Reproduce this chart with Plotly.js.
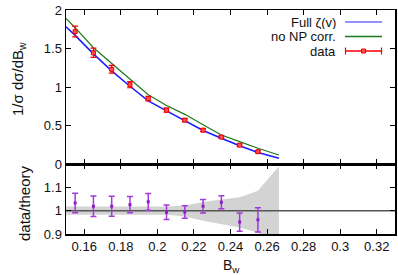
<!DOCTYPE html>
<html>
<head>
<meta charset="utf-8">
<script src="https://cdn.plot.ly/plotly-3.0.1.min.js"></script>
<style>html,body{margin:0;padding:0;background:#fff;}#chart{width:398px;height:275px;}</style>
</head>
<body>
<div id="chart"></div>
<script>
// Data bins (B_w centres)
const binX = [0.155, 0.165, 0.175, 0.185, 0.195, 0.205, 0.215, 0.225, 0.235, 0.245, 0.255];
const dataY = [1.72, 1.445, 1.23, 1.03, 0.85, 0.70, 0.57, 0.44, 0.35, 0.245, 0.16];
const dataErr = [0.07, 0.06, 0.05, 0.04, 0.03, 0.025, 0.02, 0.02, 0.015, 0.015, 0.015];

// Theory curves
const theoryX = [0.15, 0.155, 0.165, 0.175, 0.185, 0.195, 0.205, 0.215, 0.225, 0.235, 0.245, 0.255, 0.2665];
const fullZeta = [1.783, 1.67, 1.43, 1.21, 1.01, 0.82, 0.69, 0.56, 0.435, 0.335, 0.237, 0.15, 0.074];
const noNP = [1.89, 1.77, 1.51, 1.31, 1.10, 0.90, 0.76, 0.645, 0.51, 0.377, 0.29, 0.204, 0.117];

// Ratio panel
const ratioY = [1.033, 1.019, 1.019, 1.026, 1.038, 0.993, 0.994, 1.019, 1.036, 0.951, 0.961];
const ratioErr = [0.042, 0.044, 0.043, 0.035, 0.036, 0.031, 0.027, 0.029, 0.028, 0.039, 0.052];
const bandX = [0.15, 0.205, 0.215, 0.225, 0.235, 0.245, 0.255, 0.2665];
const bandUp = [1.018, 1.018, 1.022, 1.037, 1.048, 1.058, 1.085, 1.19];
const bandLo = [0.982, 0.982, 0.975, 0.957, 0.942, 0.928, 0.905, 0.85];

const xTicks = [0.16, 0.18, 0.2, 0.22, 0.24, 0.26, 0.28, 0.3, 0.32];
const yTopTicks = [0, 0.5, 1, 1.5, 2];
const yBotTicks = [0.9, 1, 1.1];

const FONT = 'Liberation Sans, Arial, sans-serif';

const traces = [
  {x: bandX.concat(bandX.slice().reverse()), y: bandUp.concat(bandLo.slice().reverse()),
   xaxis: 'x', yaxis: 'y', type: 'scatter', mode: 'lines', fill: 'toself',
   fillcolor: '#d2d3d2', line: {width: 0, color: '#d2d3d2'}, hoverinfo: 'skip', showlegend: false},
  {x: [0.15, 0.33], y: [1, 1], xaxis: 'x', yaxis: 'y', type: 'scatter', mode: 'lines',
   line: {color: '#555555', width: 1.5}, showlegend: false},
  {x: binX, y: ratioY, xaxis: 'x', yaxis: 'y', type: 'scatter', mode: 'markers',
   marker: {color: '#8a1fc8', size: 3, symbol: 'square'},
   error_y: {type: 'data', array: ratioErr, color: '#a33ad9', thickness: 1.5, width: 3},
   showlegend: false},
  {x: theoryX, y: fullZeta, xaxis: 'x2', yaxis: 'y2', type: 'scatter', mode: 'lines',
   line: {color: '#1a1aff', width: 1.5}, name: 'Full ζ(v)', showlegend: false},
  {x: theoryX, y: noNP, xaxis: 'x2', yaxis: 'y2', type: 'scatter', mode: 'lines',
   line: {color: '#1a7a1a', width: 1.2}, name: 'no NP corr.', showlegend: false},
  {x: binX, y: dataY, xaxis: 'x2', yaxis: 'y2', type: 'scatter', mode: 'markers',
   marker: {color: '#ff5050', size: 4, symbol: 'square', line: {color: '#ee0000', width: 1}},
   error_y: {type: 'data', array: dataErr, color: '#ff0000', thickness: 1.2, width: 3},
   name: 'data', showlegend: false}
];

const axCommon = {
  showline: true, linecolor: '#000', linewidth: 1.5, mirror: 'allticks',
  ticks: 'inside', ticklen: 5, tickwidth: 1, tickcolor: '#000',
  showgrid: false, zeroline: false,
  tickfont: {family: FONT, size: 13, color: '#111'}
};

const W = 329, H = 224; // plot area size
function px(p) { return (p - 66) / W; }
function py(p) { return (234 - p) / H; }

const legendRows = [
  {label: 'Full ζ(v)', y: 22, color: '#6f6fff'},
  {label: 'no NP corr.', y: 36.5, color: '#1a7a1a'},
  {label: 'data', y: 51, color: '#ff0000'}
];

const annotations = [
  {text: '1/σ dσ/dB<sub>w</sub>', xref: 'paper', yref: 'paper', x: px(18), y: py(79),
   textangle: -90, showarrow: false, xanchor: 'center', yanchor: 'middle',
   font: {family: FONT, size: 15, color: '#111'}},
  {text: 'data/theory', xref: 'paper', yref: 'paper', x: px(24), y: py(203),
   textangle: -90, showarrow: false, xanchor: 'center', yanchor: 'middle',
   font: {family: FONT, size: 15, color: '#111'}},
  {text: 'B<sub>w</sub>', xref: 'paper', yref: 'paper', x: px(231), y: py(266),
   showarrow: false, xanchor: 'center', yanchor: 'middle',
   font: {family: FONT, size: 14, color: '#111'}}
];
const shapes = [];
legendRows.forEach(r => {
  annotations.push({text: r.label, xref: 'paper', yref: 'paper', x: px(337), y: py(r.y),
    showarrow: false, xanchor: 'right', yanchor: 'middle', height: 13, borderpad: 0,
    font: {family: FONT, size: 13, color: '#111'}});
  shapes.push({type: 'line', xref: 'paper', yref: 'paper', x0: px(345), x1: px(382),
    y0: py(r.y), y1: py(r.y), line: {color: r.color, width: 1.5}});
});
// data legend caps and marker
const dy = legendRows[2].y;
shapes.push({type: 'line', xref: 'paper', yref: 'paper', x0: px(345.5), x1: px(345.5), y0: py(dy - 3.5), y1: py(dy + 3.5), line: {color: '#ff0000', width: 1.2}});
shapes.push({type: 'line', xref: 'paper', yref: 'paper', x0: px(381.5), x1: px(381.5), y0: py(dy - 3.5), y1: py(dy + 3.5), line: {color: '#ff0000', width: 1.2}});
shapes.push({type: 'rect', xref: 'paper', yref: 'paper', x0: px(361.5), x1: px(365.5), y0: py(dy - 2), y1: py(dy + 2), fillcolor: '#ff5050', line: {color: '#ee0000', width: 1}});

const layout = {
  width: 398, height: 275,
  margin: {l: 66, r: 3, t: 10, b: 41},
  paper_bgcolor: '#fff', plot_bgcolor: '#fff',
  showlegend: false,
  font: {family: FONT, size: 13, color: '#111'},
  xaxis: Object.assign({}, axCommon, {range: [0.15, 0.33], tickvals: xTicks, anchor: 'y'}),
  yaxis: Object.assign({}, axCommon, {range: [0.9, 1.2], tickvals: yBotTicks, domain: [0, 70 / 224], anchor: 'x'}),
  xaxis2: Object.assign({}, axCommon, {range: [0.15, 0.33], tickvals: xTicks, anchor: 'y2', matches: 'x', showticklabels: false}),
  yaxis2: Object.assign({}, axCommon, {range: [0, 2], tickvals: yTopTicks, domain: [70 / 224, 1], anchor: 'x2'}),
  annotations: annotations,
  shapes: shapes
};

Plotly.newPlot('chart', traces, layout, {staticPlot: true, displayModeBar: false});
</script>
</body>
</html>
